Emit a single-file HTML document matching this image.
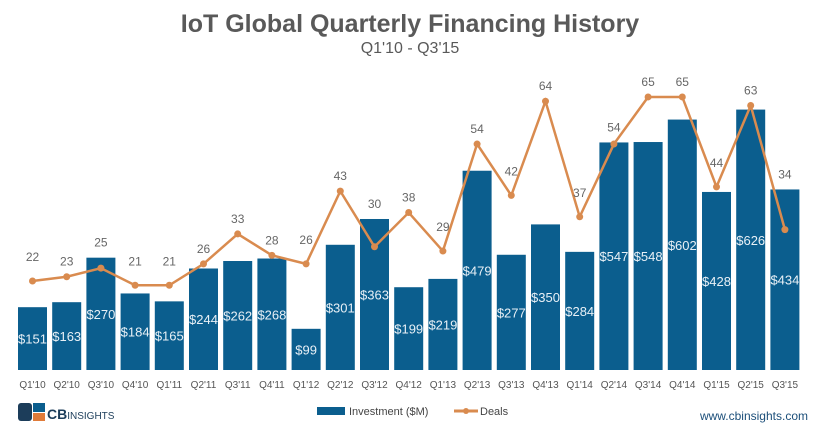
<!DOCTYPE html>
<html><head><meta charset="utf-8"><style>
body{margin:0;background:#fff;font-family:"Liberation Sans",sans-serif}
</style></head><body>
<svg width="820" height="432" xmlns="http://www.w3.org/2000/svg" font-family="Liberation Sans, sans-serif">
<text x="410" y="32" text-anchor="middle" font-size="25" font-weight="bold" fill="#595959">IoT Global Quarterly Financing History</text>
<text x="410" y="53" text-anchor="middle" font-size="16" fill="#595959">Q1'10 - Q3'15</text>
<g id="bars"></g>
<g id="line"></g>
<g id="xaxis"></g>
<g>
<rect x="18" y="403" width="14" height="18" rx="3" fill="#1c3d5a"/>
<rect x="33" y="403" width="12" height="9" fill="#0b5e8e"/>
<rect x="33" y="413" width="12" height="8" fill="#e07b39"/>
<text x="47" y="419" font-size="14" font-weight="bold" fill="#1c3d5a">CB<tspan font-size="10" font-weight="normal">INSIGHTS</tspan></text>
</g>
<g>
<rect x="317" y="407" width="28" height="8" fill="#0b5e8e"/>
<text x="349" y="415" font-size="11" fill="#444">Investment ($M)</text>
<line x1="454" y1="411" x2="478" y2="411" stroke="#d98b4f" stroke-width="3"/>
<circle cx="466" cy="411" r="3" fill="#d98b4f"/>
<text x="480" y="415" font-size="11" fill="#444">Deals</text>
</g>
<text x="808" y="420" text-anchor="end" font-size="12" fill="#1c4f7a">www.cbinsights.com</text>
</svg>
<script>
const categories=["Q1'10","Q2'10","Q3'10","Q4'10","Q1'11","Q2'11","Q3'11","Q4'11","Q1'12","Q2'12","Q3'12","Q4'12","Q1'13","Q2'13","Q3'13","Q4'13","Q1'14","Q2'14","Q3'14","Q4'14","Q1'15","Q2'15","Q3'15"];
const investment=[151,163,270,184,165,244,262,268,99,301,363,199,219,479,277,350,284,547,548,602,428,626,434];
const deals=[22,23,25,21,21,26,33,28,26,43,30,38,29,54,42,64,37,54,65,65,44,63,34];
const NS="http://www.w3.org/2000/svg";
const base=370;
function xc(i){return 32.5+34.2*i;}
function yb(v){return base-v*0.416;}
function yd(v){return 281-(v-22)*4.28;}
function mk(tag,attrs,parent,text){const e=document.createElementNS(NS,tag);for(const k in attrs)e.setAttribute(k,attrs[k]);if(text!==undefined)e.textContent=text;parent.appendChild(e);return e;}
const gb=document.getElementById('bars'),gl=document.getElementById('line'),gx=document.getElementById('xaxis');
investment.forEach((v,i)=>{
 const r=mk('rect',{x:xc(i)-14.5,y:yb(v),width:29,height:base-yb(v),fill:'#0b5e8e'},gb);
 
 
 const t=mk('text',{x:xc(i),y:(yb(v)+base)/2+5,'text-anchor':'middle','font-size':13,fill:'#e8f0f6'},gb,'$'+v);
 
 
 const c=mk('text',{x:xc(i),y:base+18,'text-anchor':'middle','font-size':10,fill:'#555'},gx,categories[i]);
 
 
});
const p=mk('polyline',{points:deals.map((d,i)=>xc(i)+','+yd(d)).join(' '),fill:'none',stroke:'#d98b4f','stroke-width':2.5},gl);


deals.forEach((d,i)=>{
 const c=mk('circle',{cx:xc(i),cy:yd(d),r:3.5,fill:'#d98b4f'},gl);
 
 
 const prev=i>0?deals[i-1]:Infinity,next=i<deals.length-1?deals[i+1]:Infinity;
 const isMin=prev>=d&&next>=d&&(prev>d||next>d);
 const off=isMin?20:11;
 const ly=Math.min(yd(d)-off,yb(investment[i])-11);
 const t=mk('text',{x:xc(i),y:ly,'text-anchor':'middle','font-size':12,fill:'#666'},gl,d);
 
 
});
</script>
</body></html>
